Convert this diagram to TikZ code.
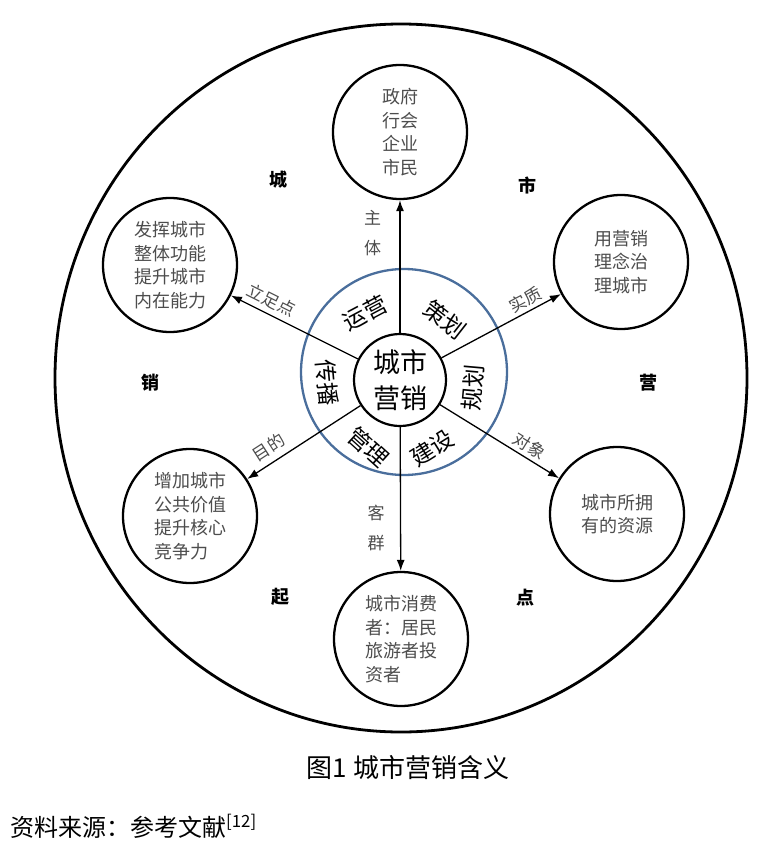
\documentclass[tikz,border=0pt]{standalone}
\usepackage{fontspec}
\setmainfont{Noto Sans CJK SC}
\usetikzlibrary{arrows.meta}
\definecolor{ringblue}{HTML}{4A6E9C}
\definecolor{textgray}{HTML}{4D4D4D}

\begin{document}
\begin{tikzpicture}[x=1pt, y=-1pt,
    sat/.style={circle, draw, line width=2.3pt, minimum size=134pt, inner sep=0pt,
        align=left, text=textgray, font=\fontsize{18}{23.5}\selectfont},
    spoke/.style={-{Latex[length=11pt, width=8pt]}, line width=1.3pt},
    armlab/.style={text=textgray, font=\fontsize{17}{30}\selectfont, align=center},
    ringlab/.style={font=\fontsize{23}{23}\selectfont, inner sep=1pt},
    rimlab/.style={font=\fontsize{18}{18}\selectfont\bfseries}]
    \useasboundingbox (0,0) rectangle (764,851);

    % Outer circle
    \draw[line width=2.8pt] (401,378) ellipse [x radius=346pt, y radius=354pt];

    % Core and blue ring
    \draw[ringblue, line width=2.3pt] (404,372) circle [radius=103pt];
    \node[circle, draw, line width=2.2pt, minimum size=92pt, inner sep=0pt, align=center,
        font=\fontsize{27}{36}\selectfont] (core) at (400,380) {城市\\营销};

    % Satellites
    \node[sat] (subj) at (400,132) {政府\\行会\\企业\\市民};
    \node[sat] (base) at (170,265) {发挥城市\\整体功能\\提升城市\\内在能力};
    \node[sat] (core2) at (621,262) {用营销\\理念治\\理城市};
    \node[sat] (goal) at (190,516) {增加城市\\公共价值\\提升核心\\竞争力};
    \node[sat] (obj) at (617,514) {城市所拥\\有的资源};
    \node[sat] (cust) at (401,639) {城市消费\\者：居民\\旅游者投\\资者};

    % Spokes
    \draw[spoke] (core) -- node[armlab, left=15pt, pos=0.75] {主\\体} (subj);
    \draw[spoke] (core) -- node[armlab, sloped, above=2pt, pos=0.73] {立足点} (base);
    \draw[spoke] (core) -- node[armlab, sloped, above=0pt, pos=0.75] {实质} (core2);
    \draw[spoke] (core) -- node[armlab, sloped, above=3pt, pos=0.74] {目的} (goal);
    \draw[spoke] (core) -- node[armlab, sloped, above=0pt, pos=0.70] {对象} (obj);
    \draw[spoke] (core) -- node[armlab, left=12pt, pos=0.70] {客\\群} (cust);

    % Ring labels
    \node[ringlab, rotate=28] (yy) at (365,313) {运营};
    \node[ringlab, rotate=-38] (ch) at (445,320) {策划};
    \node[ringlab, rotate=85] (gh) at (473,388) {规划};
    \node[ringlab, rotate=-85] (cb) at (327,383) {传播};
    \node[ringlab, rotate=-42] (gl) at (368,447) {管理};
    \node[ringlab, rotate=32] (js) at (432,448) {建设};

    % Rim characters
    \node[rimlab] (r1) at (278,180) {城};
    \node[rimlab] (r2) at (527,185) {市};
    \node[rimlab] (r3) at (648,383) {营};
    \node[rimlab] (r4) at (525,598) {点};
    \node[rimlab] (r5) at (280,597) {起};
    \node[rimlab] (r6) at (150,383) {销};

    % Caption and source
    \node[font=\fontsize{26}{26}\selectfont] (cap) at (408,768) {图1\ 城市营销含义};
    \node[anchor=west, font=\fontsize{24}{24}\selectfont, inner sep=0pt] (src) at (10,826)
        {资料来源：参考文献\textsuperscript{[12]}};
\end{tikzpicture}
\end{document}
